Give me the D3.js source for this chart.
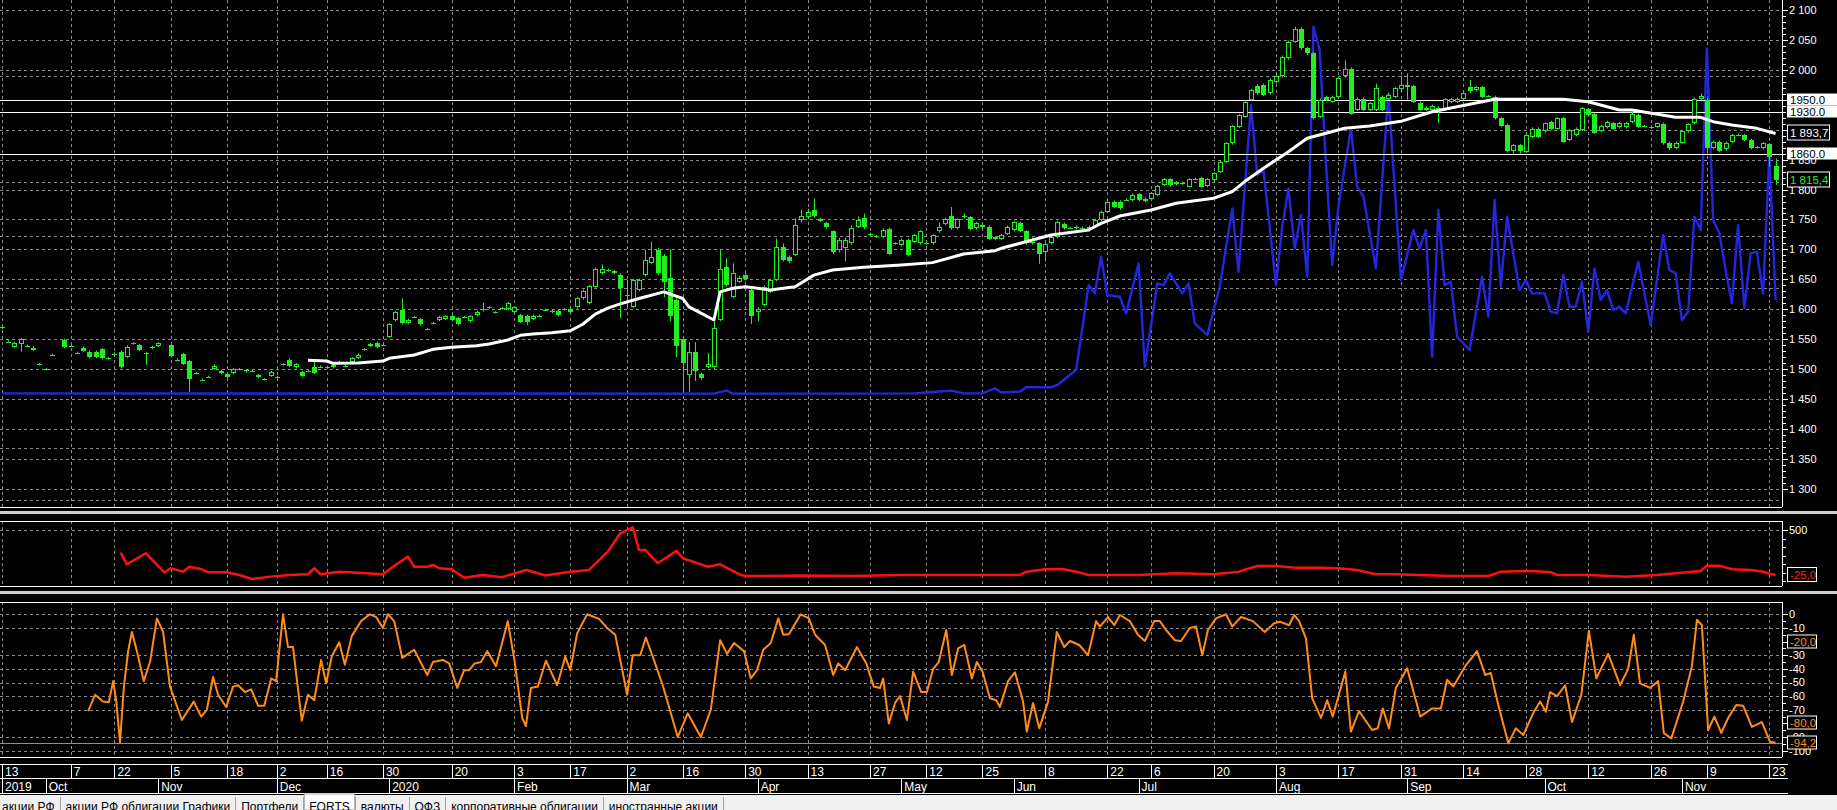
<!DOCTYPE html>
<html><head><meta charset="utf-8">
<script src="https://cdn.jsdelivr.net/npm/d3@7"></script>
<style>
html,body{margin:0;padding:0;background:#000;overflow:hidden}
svg{display:block}
</style></head><body>
<svg id="c" width="1837" height="810"></svg>
<script>
// ---------------- DATA ----------------
// bar index 0..284 (13 Sep 2019 .. 23 Nov 2020), null = no bar
const opens = [
1571,1546,1537,1542,1539,1532,1508,1500,1524,null,
1549,1539,1527,1536,1529,1529,1533,1518,1526,1529,
1521,1543,1540,1527,1537,1539,null,1540,1516,1525,
1513,1493,1482,1487,1501,1493,1492,1493,1500,1498,
1497,1490,1483,1489,1487,1508,1516,1503,1495,1497,
1503,1504,1503,1503,1512,1505,1512,1519,1533,1539,
1544,1541,1554,1582,1599,1577,1587,1583,1567,1577,
1582,1584,1589,1585,1587,1580,1590,1598,1603,1595,
1602,1600,1595,1590,1589,1584,1589,1599,1597,1597,
1600,1600,1603,1618,1610,1638,1660,1666,1664,1657,
1623,1604,1632,1657,1677,1699,1689,1652,1615,1551,
1490,1529,1492,1504,1504,1582,1671,1621,1646,1658,
1632,1596,1607,1629,1649,1704,1687,1691,1749,1754,
1765,1750,1744,1730,1699,1702,1710,1738,1752,1726,
1722,1721,1734,1710,1707,1716,1713,1710,1711,1710,
1730,1742,1755,1735,1756,1754,1735,1741,1738,1720,
1718,1726,1732,1744,1730,1710,1710,1696,1710,1721,
1743,1736,1735,1736,1738,1738,1749,1763,1780,1780,
1783,1782,1792,1785,1785,1791,1808,1817,1812,1810,
1805,1818,1819,1806,1816,1830,1846,1877,1905,1922,
1950,1973,1975,1961,1979,1989,2019,2047,2069,2036,
2028,1922,1955,1947,1955,1989,2002,1933,1952,1933,
1933,1955,1952,1955,1968,1971,1973,1945,1937,1933,
1933,1934,1947,1947,1952,1971,1966,1971,1956,1955,
1919,1908,1865,1874,1863,1888,1902,1897,1913,1902,
1919,1883,1891,1900,1934,1927,1898,1904,1911,1904,
1904,1913,1925,1906,1905,1904,1910,1878,1869,1878,
1897,1911,1952,1950,1869,1880,1867,1880,1891,1891,
1883,1871,1869,1876,1839];
const highs = [
1574,1548,1546,1552,1541,1538,1510,1502,1526,null,
1551,1541,1529,1538,1531,1531,1535,1520,1528,1531,
1540,1545,1542,1529,1539,1545,null,1542,1518,1527,
1515,1495,1484,1489,1508,1499,1494,1502,1502,1500,
1499,1492,1485,1497,1489,1510,1518,1510,1497,1499,
1515,1506,1505,1509,1514,1507,1520,1526,1535,1544,
1546,1543,1577,1597,1618,1584,1589,1585,1569,1579,
1589,1590,1591,1587,1589,1590,1598,1611,1605,1597,
1604,1612,1605,1592,1591,1591,1591,1601,1599,1599,
1602,1602,1620,1633,1641,1670,1675,1668,1666,1660,
1649,1651,1651,1699,1713,1702,1692,1700,1618,1553,
1545,1545,1494,1527,1579,1699,1686,1677,1656,1662,
1634,1604,1640,1651,1718,1710,1690,1752,1766,1768,
1785,1752,1746,1732,1719,1720,1740,1755,1760,1728,
1724,1735,1736,1712,1718,1718,1726,1732,1713,1726,
1745,1753,1771,1752,1760,1756,1746,1743,1740,1722,
1726,1740,1747,1746,1732,1720,1712,1711,1723,1747,
1745,1738,1740,1738,1740,1751,1765,1782,1782,1782,
1785,1793,1794,1787,1796,1808,1819,1819,1814,1813,
1819,1820,1821,1819,1829,1848,1879,1908,1926,1949,
1968,1976,1977,1985,1992,2024,2049,2072,2071,2038,
2030,1952,1957,1957,1988,2016,2004,1954,1954,1946,
1977,1957,1960,1971,1990,1994,1975,1947,1939,1942,
1939,1953,1953,1954,1963,1983,1973,1973,1958,1957,
1921,1910,1876,1876,1893,1904,1904,1912,1915,1921,
1921,1901,1904,1938,1936,1929,1908,1915,1913,1913,
1913,1929,1927,1908,1907,1912,1912,1880,1880,1898,
1911,1954,1961,1952,1882,1882,1880,1893,1893,1893,
1885,1873,1879,1878,1852];
const lows = [
1567,1544,1535,1529,1537,1530,1506,1498,1522,null,
1535,1537,1525,1529,1518,1518,1516,1516,1524,1501,
1519,1541,1530,1507,1533,1537,null,1520,1514,1507,
1462,1491,1480,1485,1499,1491,1485,1491,1498,1494,
1495,1485,1481,1487,1485,1506,1503,1501,1487,1495,
1492,1502,1501,1501,1510,1503,1510,1517,1531,1537,
1535,1539,1552,1580,1575,1575,1585,1573,1565,1575,
1580,1582,1580,1573,1585,1578,1588,1596,1601,1593,
1600,1598,1593,1577,1573,1582,1587,1597,1593,1588,
1598,1594,1601,1616,1608,1636,1658,1663,1659,1585,
1604,1602,1630,1655,1675,1657,1620,1580,1520,1462,
1462,1480,1482,1502,1500,1580,1638,1619,1644,1648,
1575,1580,1605,1627,1647,1680,1677,1689,1745,1750,
1753,1746,1735,1692,1695,1680,1707,1736,1734,1722,
1719,1719,1691,1708,1705,1688,1711,1708,1708,1708,
1728,1740,1733,1733,1752,1732,1733,1735,1716,1715,
1716,1724,1730,1729,1708,1708,1676,1680,1708,1719,
1733,1734,1733,1734,1730,1736,1747,1761,1769,1766,
1781,1780,1780,1779,1783,1789,1806,1805,1807,1808,
1803,1816,1803,1804,1814,1828,1844,1875,1903,1920,
1948,1958,1956,1959,1977,1987,2017,2045,2034,2025,
1917,1920,1948,1945,1953,1987,1925,1931,1931,1931,
1931,1931,1950,1953,1966,1950,1945,1931,1931,1931,
1911,1932,1945,1945,1950,1961,1964,1953,1954,1917,
1904,1862,1860,1860,1861,1886,1886,1895,1900,1900,
1878,1881,1889,1898,1922,1893,1896,1902,1900,1902,
1902,1911,1903,1904,1903,1902,1875,1866,1867,1876,
1895,1909,1950,1860,1867,1863,1865,1878,1889,1881,
1867,1869,1867,1838,1808];
const closes = [
1570,1545,1544,1550,1539,1536,1508,1500,1524,null,
1537,1539,1527,1531,1520,1520,1518,1518,1526,1503,
1537,1543,1532,1527,1535,1543,null,1522,1516,1509,
1483,1493,1482,1487,1506,1497,1487,1500,1500,1496,
1497,1487,1483,1495,1487,1508,1505,1508,1489,1497,
1494,1504,1503,1507,1512,1505,1518,1524,1533,1542,
1537,1541,1575,1595,1577,1582,1587,1575,1567,1577,
1587,1588,1582,1575,1587,1588,1596,1600,1603,1595,
1602,1610,1603,1579,1578,1589,1589,1599,1595,1590,
1600,1596,1618,1631,1639,1668,1668,1665,1661,1635,
1622,1649,1649,1682,1687,1660,1645,1588,1538,1510,
1529,1496,1485,1508,1568,1668,1640,1660,1653,1650,
1588,1601,1638,1649,1704,1682,1680,1741,1756,1763,
1756,1748,1738,1696,1716,1716,1735,1749,1738,1724,
1721,1732,1693,1710,1716,1691,1724,1730,1710,1724,
1737,1751,1735,1750,1755,1734,1744,1737,1718,1717,
1724,1738,1745,1731,1710,1718,1693,1709,1721,1745,
1735,1736,1738,1735,1732,1749,1763,1780,1771,1769,
1782,1791,1782,1781,1794,1806,1817,1808,1809,1811,
1817,1817,1805,1817,1827,1846,1877,1906,1924,1947,
1966,1961,1958,1983,1990,2022,2047,2069,2036,2028,
1919,1950,1950,1955,1986,2002,1927,1952,1933,1944,
1969,1933,1958,1969,1975,1975,1947,1933,1933,1940,
1937,1951,1951,1952,1961,1964,1971,1955,1955,1919,
1906,1865,1874,1865,1891,1902,1888,1911,1902,1919,
1880,1900,1902,1936,1925,1895,1906,1913,1902,1912,
1912,1927,1905,1906,1905,1911,1877,1869,1878,1897,
1910,1952,1956,1869,1880,1865,1878,1891,1890,1883,
1869,1871,1877,1855,1815.4];

// moving average (white)
const maIdx = [49,52,53,57,61,62,66,69,72,76,78,81,83,85,88,91,93,95,97,99,102,106,109,110,112,114,115,117,119,121,123,127,130,133,138,144,149,154,159,160,165,168,174,176,179,184,188,194,197,199,202,206,209,212,215,219,224,229,233,237,239,250,254,259,261,268,272,274,277,281,284];
const maVal = [1514.7,1513.5,1509.6,1510,1513.5,1518,1523.6,1533,1536.4,1539,1542,1548.6,1556.5,1558.6,1560.8,1564,1575,1592,1602,1609,1618,1629,1618,1604,1593,1582,1629,1635,1637.7,1635,1632,1637.7,1657,1665.6,1670,1674,1677.9,1692.3,1697.9,1701.8,1715.7,1724,1732.4,1743.6,1755.8,1765.8,1777,1785.4,1796.5,1813.3,1835.6,1863.3,1885.6,1894,1902.3,1906.2,1914,1930,1938.4,1946.8,1951,1951,1946.8,1933,1933,1920.7,1920.7,1913.4,1907.8,1902.3,1893.7];

// blue series (drawn on the price scale)
const blueIdx = [0,114,116,117,146,148,152,154,157,159,160,163,164,168,169,170,172,174,175,176,177,179,180,182,183,185,186,187,189,190,191,193,195,197,198,200,201,202,204,205,206,207,208,209,210,211,212,213,214,216,217,218,220,222,224,226,227,228,229,230,231,232,233,235,237,238,239,240,241,243,244,245,247,248,249,250,251,252,253,254,255,256,257,258,259,260,262,264,266,267,268,269,270,271,272,273,274,275,276,277,278,279,280,281,282,283,284];
const blueVal = [1459.5,1459,1464,1459,1459.5,1461,1464,1459.5,1459.5,1468,1461,1462.3,1469.6,1469.6,1473.5,1481.7,1498.4,1640.4,1626.5,1687.8,1623.7,1620.9,1593.1,1676.7,1504,1643.2,1640.4,1660,1626.5,1643.2,1576.4,1557,1637.7,1768.6,1662.7,1941.2,1824.3,1832.6,1640.4,1738,1802,1701.7,1757.4,1654.4,2072.1,2033.2,1843.8,1673.9,1771.4,1902.3,1804.8,1788.1,1668.3,1960.7,1648.8,1732.4,1701.7,1732.4,1520.7,1765.8,1640.4,1646,1554.1,1531.9,1654.4,1587.6,1782.5,1637.7,1754.6,1632.1,1648.8,1626.5,1626.5,1595.9,1593.1,1657.2,1604.3,1604.3,1646,1562.5,1668.3,1615.4,1632.1,1598.7,1604.3,1593.1,1679.5,1573.6,1724,1665.5,1660,1582,1595.9,1754.6,1732.4,2035.9,1749.1,1726.8,1665.5,1609.8,1740.7,1601.5,1693.4,1696.2,1626.5,1860,1615.4];

// horizontal level lines
const levels = [1950, 1930, 1860];

// red indicator (middle panel)
const redIdx = [19,20,23,26,27,29,30,32,33,36,38,40,43,46,49,50,51,54,61,63,65,66,68,69,70,72,74,77,80,84,87,91,94,97,99,101,102,103,105,108,109,113,115,118,119,122,128,136,144,163,164,167,170,172,174,182,188,194,198,201,204,207,211,214,217,220,223,232,238,240,245,248,249,254,260,265,268,272,273,275,277,280,282,283,284];
const redVal = [236,100,229,7,54,14,72,42,7,7,-25,-71,-44,-25,-16,54,-16,14,-16,92,189,72,72,92,54,42,-56,-25,-51,34,-30,14,34,247,462,532,267,267,112,256,170,72,100,-16,-36,-36,-30,-36,-25,-25,14,42,42,14,-25,-25,-5,-16,14,80,80,61,61,54,34,-16,-16,-36,-36,14,22,7,-25,-25,-44,-25,-5,22,84,84,42,34,14,-10,-25];

// orange oscillator (bottom panel)
const oscIdx = [13.8,14.9,16.2,17.1,17.8,18.3,18.9,19.5,20.2,20.8,21.6,22.7,23.7,24.8,25.8,26.9,28.8,30.7,31.9,32.8,33.8,34.6,35.9,37,37.8,38.9,39.9,41,42,43.1,43.9,45,45.8,46.6,48,49,50,51.1,51.9,52.8,54,54.9,56,57.5,58.9,59.9,61,61.8,62.8,64.1,66,68.1,69,70.6,71.6,72.9,74,74.8,75.7,76.7,77.7,79.1,81,82.1,83.3,83.9,84.7,85.8,87.1,88.9,90.2,91,92.1,93.7,95.6,96.9,98.2,100.1,101,102.2,103.1,104.2,105.8,108.2,109.8,111.9,113.5,115,116.1,117.2,118.8,119.9,120.9,121.9,123.1,124.3,125.1,126,127.9,129.2,130.2,131.8,133.1,133.9,135,136.9,138.4,139.6,140.6,141.1,142,143,143.8,144.9,145.9,147.2,148.1,149.1,150,151.2,152.1,153.1,154.1,155.3,156.1,157,158.2,159.2,159.8,161.1,162.2,163.5,164.1,165.1,166.1,167.5,168.9,170.1,171,172.5,173.9,175.2,175.8,177.1,178.1,179,180.6,181.9,183,184.5,185.4,186.4,187.8,188.8,190.2,191.2,192.2,193.1,194.4,196,197,198.4,200.3,202.2,203.7,204.6,206.1,206.9,207.7,208.8,209.8,211.2,212.2,213.1,215.1,216,217.3,219.4,220.3,221.1,222.1,223.2,225,227.1,229,230.4,231.4,232.4,234.3,236.2,237.5,238.4,239.6,241.2,242.4,243.6,245.3,246.3,247.2,247.9,249,250.3,251.4,252.9,254.1,255.3,257.2,259.1,260.4,261.3,262.3,263.9,265.2,266.1,267.3,269.2,270.6,271.4,272.2,273.2,274.2,275.3,276.4,277.7,278.8,280.2,281.8,283.1,284];
const oscVal = [-71,-59,-64,-64.5,-49,-64,-94,-54,-27,-13,-27,-49,-35,-3,-13,-53,-77.5,-64,-75,-70,-46,-59,-68,-53,-52,-57,-55,-67,-67,-47,-49,0,-24,-24,-78,-59,-63,-33.5,-50.6,-31,-20.5,-37,-16,-5,0,-2,-10,0,-5,-32,-26,-44.5,-35,-33.5,-36,-54,-41,-41,-36,-35,-27,-38,-5,-35,-76,-82,-54,-53,-34,-52,-31,-41,-14,0,-3.4,-10,-15,-59,-30,-30,-17,-31,-52,-90,-72.6,-90,-70,-19,-29,-21,-27,-47,-41,-26,-21,-3,-15,-14.7,0,-3,-15,-22.5,-44.5,-36,-41,-24,-36,-53,-54,-47,-80,-65,-60,-77.5,-42,-57,-57,-40,-35,-11.5,-44.5,-25,-22.5,-47,-35,-42,-61.6,-63,-68,-49,-42.5,-64,-86,-65,-83.6,-64,-13,-24,-19.6,-22.5,-30,-5,-9,-2,-8,-0.5,-5,-15,-19.6,-5,-5,-11.5,-19,-19.6,-10,-9,-30,-11.5,-3,0,-9,-2,-5,-13,-6.6,-5.4,-8,-0.5,-5,-17.6,-61.6,-76,-63,-75,-42,-86,-71,-84.8,-83.6,-69,-83.6,-54,-39.6,-75,-69,-69,-48,-53,-38,-27,-44.5,-43,-66.5,-94.6,-83.6,-88.5,-71.4,-64,-71.4,-57,-60,-52,-79,-59,-12,-47,-29,-52,-40,-15,-50.6,-54,-49,-87,-91,-64,-38,-4,-8,-84.8,-75,-87,-76,-66.5,-67,-82.6,-79,-93.4,-94.2];
const oscLevels = [-20, -80];
const oscLast = -94.2;
const redLast = -25;

// time axis
const tickIdx = [0,11,18,27,36,44,52,61,72,82,91,100,109,119,129,139,148,157,167,177,184,194,204,214,224,234,244,254,264,273,283];
const tickLabels = ["13","7","22","5","18","2","16","30","20","3","17","2","16","30","13","27","12","25","8","22","6","20","3","17","31","14","28","12","26","9","23"];
const monthIdx = [0,7,25,44,62,82,100,121,144,162,182,204,225,247,269];
const monthLabels = ["2019","Oct","Nov","Dec","2020","Feb","Mar","Apr","May","Jun","Jul","Aug","Sep","Oct","Nov"];

// axis ticks
const mainTicks = d3.range(1300, 2101, 50);
const extraGrid = [1989, 1812, 1723, 1635, 1369, 1281];
const redTicks = [500];
const oscTicks = d3.range(-100, 1, 10);

const tabNames = ["акции РФ","акции РФ облигации Графики","Портфели","FORTS","валюты","ОФЗ","корпоративные облигации","иностранные акции"];
const activeTab = 3;

// ---------------- DRAW ----------------
const W = 1837, H = 810, AX = 1782;
const FF = '"Liberation Sans", Arial, sans-serif';
const loc = d3.formatLocale({decimal:",", thousands:" ", grouping:[3], currency:["",""], minus:"-"});
const fInt = loc.format(",d"), f1 = loc.format(",.1f");
const GREEN = "#22ee22", GRID = "#8c8c8c";

const svg = d3.select("#c");
svg.append("rect").attr("width", W).attr("height", H).attr("fill", "#000");

const x = d3.scaleLinear().domain([0, 284]).range([2, 2 + 6.245 * 284]);
const yMain = d3.scaleLinear().domain([1300, 2100]).range([488.8, 10]);
const yRed = d3.scaleLinear().domain([-25, 500]).range([575, 530]);
const yOsc = d3.scaleLinear().domain([-100, 0]).range([750.7, 614.3]);

const P = {main:{t:0,b:507}, red:{t:521,b:586}, osc:{t:602,b:757}};
const defs = svg.append("defs");
Object.entries(P).forEach(([k,p]) => {
  defs.append("clipPath").attr("id","clip-"+k).append("rect")
    .attr("x",0).attr("y",p.t).attr("width",AX).attr("height",p.b-p.t);
});
const px = v => Math.round(v) + 0.5;

// vertical grid in all panels
Object.values(P).forEach(p => {
  svg.append("g").selectAll("line").data(tickIdx).join("line")
    .attr("x1", d => px(x(d))).attr("x2", d => px(x(d)))
    .attr("y1", p.t).attr("y2", p.b)
    .attr("stroke", GRID).attr("stroke-dasharray", "3,3");
});
// horizontal grids
svg.append("g").selectAll("line").data(mainTicks.concat(extraGrid)).join("line")
  .attr("x1", 0).attr("x2", AX).attr("y1", d => px(yMain(d))).attr("y2", d => px(yMain(d)))
  .attr("stroke", GRID).attr("stroke-dasharray", "3,3");
svg.append("g").selectAll("line").data(redTicks).join("line")
  .attr("x1", 0).attr("x2", AX).attr("y1", d => px(yRed(d))).attr("y2", d => px(yRed(d)))
  .attr("stroke", GRID).attr("stroke-dasharray", "3,3");
svg.append("g").selectAll("line").data(oscTicks.filter(v => !oscLevels.includes(v))).join("line")
  .attr("x1", 0).attr("x2", AX).attr("y1", d => px(yOsc(d))).attr("y2", d => px(yOsc(d)))
  .attr("stroke", GRID).attr("stroke-dasharray", "3,3");

// main panel content
const gMain = svg.append("g").attr("clip-path", "url(#clip-main)");
gMain.append("path")
  .attr("d", d3.line().x((d,i) => x(blueIdx[i])).y(d => yMain(d))(blueVal))
  .attr("fill", "none").attr("stroke", "#2626e0").attr("stroke-width", 2.4).attr("stroke-linejoin","round");
gMain.selectAll("line.lvl").data(levels).join("line").attr("class","lvl")
  .attr("x1", 0).attr("x2", AX).attr("y1", d => px(yMain(d))).attr("y2", d => px(yMain(d)))
  .attr("stroke", "#fff").attr("stroke-width", 1);
const bars = opens.map((o,i) => ({i, o, h: highs[i], l: lows[i], c: closes[i]})).filter(d => d.o != null);
const gC = gMain.append("g");
gC.selectAll("line").data(bars).join("line")
  .attr("x1", d => px(x(d.i))).attr("x2", d => px(x(d.i)))
  .attr("y1", d => yMain(d.h)).attr("y2", d => yMain(d.l))
  .attr("stroke", GREEN).attr("stroke-width", 1);
gC.selectAll("rect").data(bars).join("rect")
  .each(function(d){
    const cx = Math.round(x(d.i));
    const top = Math.round(yMain(Math.max(d.o, d.c)));
    const bot = Math.round(yMain(Math.min(d.o, d.c)));
    const hgt = bot - top;
    const s = d3.select(this);
    if (d.c > d.o && hgt >= 2) {
      s.attr("x", cx - 2 + 0.5).attr("y", top + 0.5).attr("width", 4).attr("height", hgt - 1)
       .attr("fill", "#000").attr("stroke", GREEN).attr("stroke-width", 1);
    } else {
      s.attr("x", cx - 2).attr("y", top).attr("width", 5).attr("height", Math.max(hgt, 1))
       .attr("fill", GREEN);
    }
  });
gMain.append("path")
  .attr("d", d3.line().x((d,i) => x(maIdx[i])).y(d => yMain(d))(maVal))
  .attr("fill", "none").attr("stroke", "#fff").attr("stroke-width", 3).attr("stroke-linejoin","round");

// red panel
svg.append("g").attr("clip-path", "url(#clip-red)").append("path")
  .attr("d", d3.line().x((d,i) => x(redIdx[i])).y(d => yRed(d))(redVal))
  .attr("fill", "none").attr("stroke", "#ff1010").attr("stroke-width", 2.5).attr("stroke-linejoin","round");

// oscillator panel
const gOsc = svg.append("g").attr("clip-path", "url(#clip-osc)");
gOsc.append("line").attr("x1", 0).attr("x2", AX)
  .attr("y1", px(yOsc(oscLast))).attr("y2", px(yOsc(oscLast)))
  .attr("stroke", "#3cc83c").attr("stroke-width", 1);
gOsc.append("path")
  .attr("d", d3.line().x((d,i) => x(oscIdx[i])).y(d => yOsc(d))(oscVal))
  .attr("fill", "none").attr("stroke", "#ff8c1a").attr("stroke-width", 2).attr("stroke-linejoin","round");

// panel borders and splitters
const border = svg.append("g").attr("stroke", "#fff").attr("stroke-width", 1);
[P.main.b, P.red.t, P.red.b, P.osc.t, P.osc.b].forEach(y =>
  border.append("line").attr("x1",0).attr("x2",AX).attr("y1",y+0.5).attr("y2",y+0.5));
Object.values(P).forEach(p => border.append("line").attr("x1",AX+0.5).attr("x2",AX+0.5).attr("y1",p.t).attr("y2",p.b));
svg.append("rect").attr("x",0).attr("y",511).attr("width",W).attr("height",3).attr("fill","#cfcfcf");
svg.append("rect").attr("x",0).attr("y",591).attr("width",W).attr("height",3).attr("fill","#cfcfcf");

// right axes
function drawAxis(scale, majors, minors, fmt) {
  const g = svg.append("g").attr("font-family", FF).attr("font-size", 11);
  g.selectAll("line.mn").data(minors).join("line").attr("class","mn")
    .attr("x1", AX).attr("x2", AX + 4).attr("y1", d => px(scale(d))).attr("y2", d => px(scale(d)))
    .attr("stroke", "#fff");
  g.selectAll("line.mj").data(majors).join("line").attr("class","mj")
    .attr("x1", AX).attr("x2", AX + 6).attr("y1", d => px(scale(d))).attr("y2", d => px(scale(d)))
    .attr("stroke", "#fff");
  g.selectAll("text").data(majors).join("text")
    .attr("x", AX + 7).attr("y", d => scale(d)).attr("dy", "0.36em")
    .attr("fill", "#fff").text(fmt);
}
drawAxis(yMain, mainTicks, d3.range(1300, 2101, 10), fInt);
drawAxis(yRed, redTicks, d3.range(-100, 501, 100), fInt);
drawAxis(yOsc, oscTicks, d3.range(-100, 1, 5), fInt);

// value boxes
function box(scale, v, txt, col, fill, w, hgt) {
  const y = Math.round(scale(v));
  const g = svg.append("g");
  g.append("rect").attr("x", AX + 5.5).attr("y", y - hgt / 2 - 0.5).attr("width", w).attr("height", hgt)
    .attr("fill", fill).attr("stroke", "#fff");
  g.append("text").attr("x", AX + 8).attr("y", y).attr("dy", "0.36em")
    .attr("font-family", FF).attr("font-size", 11.5).attr("fill", col).text(txt);
}
levels.forEach(v => box(yMain, v, v.toFixed(1), "#000", "#fff", 60, 11));
box(yMain, maVal[maVal.length - 1], f1(maVal[maVal.length - 1]), "#fff", "#000", 42, 15);
box(yMain, closes[closes.length - 1], f1(closes[closes.length - 1]), GREEN, "#000", 42, 15);
box(yRed, redLast, f1(redLast), "#ff2020", "#000", 29, 14);
oscLevels.forEach(v => box(yOsc, v, f1(v), "#ff8c1a", "#000", 29, 13));
box(yOsc, oscLast, f1(oscLast), "#ff8c1a", "#000", 29, 13);

// date strip
const gd = svg.append("g").attr("font-family", FF).attr("font-size", 12);
gd.append("rect").attr("x",0).attr("y",764).attr("width",W).attr("height",30).attr("fill","#000");
[764, 778, 793].forEach(y => gd.append("line").attr("x1",0).attr("x2",AX + 6).attr("y1",y+0.5).attr("y2",y+0.5).attr("stroke","#fff"));
gd.selectAll("line.t").data(tickIdx).join("line").attr("class","t")
  .attr("x1", d => px(x(d))).attr("x2", d => px(x(d))).attr("y1", 764).attr("y2", 778).attr("stroke", "#fff");
gd.selectAll("text.t").data(tickIdx).join("text").attr("class","t")
  .attr("x", d => x(d) + 3).attr("y", 776).attr("fill", "#fff").text((d,i) => tickLabels[i]);
gd.selectAll("line.m").data(monthIdx).join("line").attr("class","m")
  .attr("x1", d => px(x(d))).attr("x2", d => px(x(d))).attr("y1", 778).attr("y2", 793).attr("stroke", "#fff");
gd.selectAll("text.m").data(monthIdx).join("text").attr("class","m")
  .attr("x", d => x(d) + 3).attr("y", 791).attr("fill", "#fff").text((d,i) => monthLabels[i]);

// tab bar
const gt = svg.append("g").attr("font-family", FF).attr("font-size", 12);
gt.append("rect").attr("x",0).attr("y",795).attr("width",W).attr("height",15).attr("fill","#f0f0f0");
let cx = 2, prevSep = 0;
tabNames.forEach((name, i) => {
  const t = gt.append("text").attr("x", cx).attr("y", 811).attr("fill", "#000").text(name);
  const w = t.node().getComputedTextLength();
  const sep = cx + w + 5;
  if (i === activeTab) {
    gt.insert("rect", "text").attr("x", prevSep + 1).attr("y", 794).attr("width", sep - prevSep - 1).attr("height", 16)
      .attr("fill", "#fff").attr("stroke", "#a0a0a0");
  }
  gt.append("line").attr("x1", px(sep)).attr("x2", px(sep)).attr("y1", 797).attr("y2", 810).attr("stroke", "#a0a0a0");
  prevSep = sep;
  cx = sep + 6;
});
</script></body></html>
